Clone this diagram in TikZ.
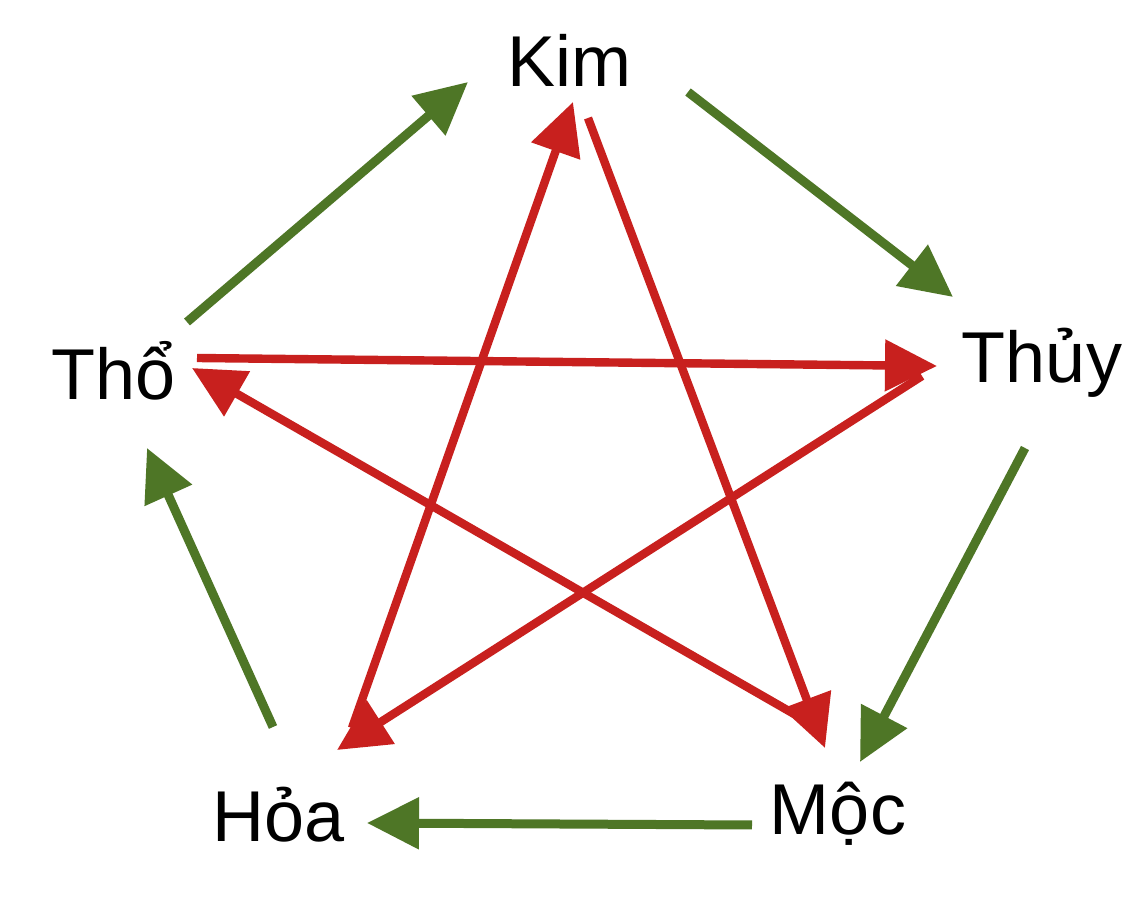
\documentclass[tikz,border=0pt]{standalone}
\usepackage{fontspec}
\setmainfont{Liberation Sans}
\usetikzlibrary{arrows.meta}
\definecolor{kred}{RGB}{200,32,30}
\definecolor{kgreen}{RGB}{78,118,38}
\begin{document}
\begin{tikzpicture}[x=0.5pt,y=-0.5pt,
  lbl/.style={anchor=base,inner sep=0pt,font=\fontsize{36}{40}\selectfont},
  gen/.style={draw=kgreen,line width=4.5pt,-{Triangle[length=26pt,width=25pt]},fill=kgreen},
  ctl/.style={draw=kred,line width=4.2pt,-{Triangle[length=26pt,width=25pt]},fill=kred}]
\useasboundingbox (0,0) rectangle (1147,924);
\fill[white] (0,0) rectangle (1147,924);
% labels
\node[lbl] (kim)  at (569,87)  {Kim};
\node[lbl] (thuy) at (1042,383) {Thủy};
\node[lbl] (moc)  at (838,835) {Mộc};
\node[lbl] (hoa)  at (279,842) {Hỏa};
\node[lbl] (tho)  at (114,400) {Thổ};
% green arrow ends
\coordinate (g1s) at (187,322); \coordinate (g1e) at (468,82);
\coordinate (g2s) at (688,92);  \coordinate (g2e) at (953,297);
\coordinate (g3s) at (1025,448); \coordinate (g3e) at (860,762);
\coordinate (g4s) at (752,825); \coordinate (g4e) at (367,823);
\coordinate (g5s) at (273,727); \coordinate (g5e) at (147,448);
% red arrow ends
\coordinate (r1s) at (197,358); \coordinate (r1e) at (937,366);
\coordinate (r2s) at (922,376); \coordinate (r2e) at (337,750);
\coordinate (r3s) at (352,728); \coordinate (r3e) at (573,102);
\coordinate (r4s) at (588,118); \coordinate (r4e) at (825,748);
\coordinate (r5s) at (808,722); \coordinate (r5e) at (192,368);
% controlling cycle (red)
\draw[ctl] (r3s) -- (r3e);
\draw[ctl] (r2s) -- (r2e);
\draw[ctl] (r1s) -- (r1e);
\draw[ctl] (r5s) -- (r5e);
\draw[ctl] (r4s) -- (r4e);
% generating cycle (green)
\draw[gen] (g1s) -- (g1e);
\draw[gen] (g2s) -- (g2e);
\draw[gen] (g3s) -- (g3e);
\draw[gen] (g4s) -- (g4e);
\draw[gen] (g5s) -- (g5e);
\end{tikzpicture}
\end{document}
